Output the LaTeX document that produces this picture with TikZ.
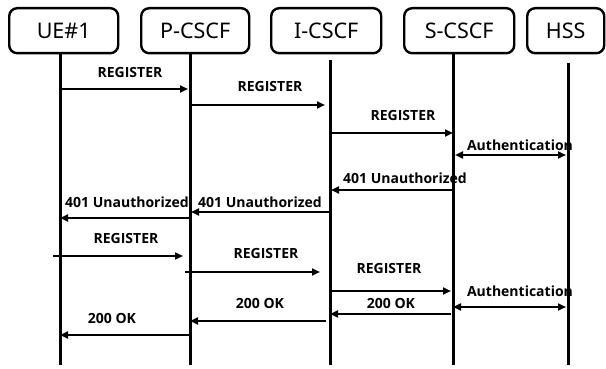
\documentclass[tikz,border=0pt]{standalone}
\usepackage{fontspec}
\setmainfont{Noto Sans}
\newfontfamily\lblfont{Open Sans}[BoldFont={* Bold}]
\usetikzlibrary{arrows.meta}
\begin{document}
\begin{tikzpicture}[x=1pt,y=-1pt,
  ent/.style={draw,line width=2.4pt,rounded corners=8pt,inner sep=0pt,anchor=north west,font=\fontsize{21.5}{24}\selectfont},
  life/.style={line width=3pt},
  msg/.style={line width=2.6pt,-{Triangle[length=8pt,width=7pt]}},
  bidir/.style={line width=2.6pt,{Triangle[length=8pt,width=7pt]}-{Triangle[length=8pt,width=7pt]}},
  lbl/.style={font=\lblfont\bfseries\fontsize{14}{16}\selectfont,inner sep=0pt}]
\useasboundingbox (0,0) rectangle (606,369);
% entity boxes
\node[ent,minimum width=109pt,minimum height=45pt] (ue) at (8,7) {UE\#1};
\node[ent,minimum width=108pt,minimum height=45pt] (pc) at (140,7) {P-CSCF};
\node[ent,minimum width=110pt,minimum height=45pt] (ic) at (270,7) {I-CSCF};
\node[ent,minimum width=110pt,minimum height=45pt] (sc) at (403,7) {S-CSCF};
\node[ent,minimum width=77pt,minimum height=45pt] (hs) at (526,7) {HSS};
% lifeline coordinates
\coordinate (uet) at (60,53);  \coordinate (ueb) at (60,365);
\coordinate (pct) at (190,53); \coordinate (pcb) at (190,365);
\coordinate (ict) at (330,60); \coordinate (icb) at (330,365);
\coordinate (sct) at (453,53); \coordinate (scb) at (453,365);
\coordinate (hst) at (568,63); \coordinate (hsb) at (568,365);
% labels
\node[lbl] (l1) at (130,72) {REGISTER};
\node[lbl] (l2) at (270,86) {REGISTER};
\node[lbl] (l3) at (403,115) {REGISTER};
\node[lbl] (l4) at (520,145) {Authentication};
\node[lbl] (l5) at (405,178) {401 Unauthorized};
\node[lbl] (l6) at (260,202) {401 Unauthorized};
\node[lbl] (l7) at (127,202) {401 Unauthorized};
\node[lbl] (l8) at (126,238) {REGISTER};
\node[lbl] (l9) at (266,253) {REGISTER};
\node[lbl] (l10) at (389,268) {REGISTER};
\node[lbl] (l11) at (520,291) {Authentication};
\node[lbl] (l12) at (391,303) {200 OK};
\node[lbl] (l13) at (260,303) {200 OK};
\node[lbl] (l14) at (112,318) {200 OK};
% lifelines
\draw[life] (uet) -- (ueb);
\draw[life] (pct) -- (pcb);
\draw[life] (ict) -- (icb);
\draw[life] (sct) -- (scb);
\draw[life] (hst) -- (hsb);
% messages
\draw[msg] (uet |- 0,89) -- ([xshift=-2pt]pct |- 0,89);
\draw[msg] (pct |- 0,105) -- ([xshift=-5pt]ict |- 0,105);
\draw[msg] (ict |- 0,133) -- (sct |- 0,133);
\draw[bidir] ([xshift=2pt]sct |- 0,155) -- ([xshift=-2pt]hst |- 0,155);
\draw[msg] (sct |- 0,190) -- ([xshift=1pt]ict |- 0,190);
\draw[msg] (ict |- 0,212) -- ([xshift=1pt]pct |- 0,212);
\draw[msg] (pct |- 0,218) -- (uet |- 0,218);
\draw[msg] ([xshift=-7pt]uet |- 0,256) -- ([xshift=-7pt]pct |- 0,256);
\draw[msg] ([xshift=-5pt]pct |- 0,272) -- ([xshift=-10pt]ict |- 0,272);
\draw[msg] (ict |- 0,291) -- ([xshift=-2pt]sct |- 0,291);
\draw[bidir] (sct |- 0,307) -- ([xshift=-2pt]hst |- 0,307);
\draw[msg] ([xshift=-2pt]sct |- 0,314) -- (ict |- 0,314);
\draw[msg] ([xshift=-4pt]ict |- 0,321) -- (pct |- 0,321);
\draw[msg] (pct |- 0,335) -- (uet |- 0,335);
\end{tikzpicture}
\end{document}
